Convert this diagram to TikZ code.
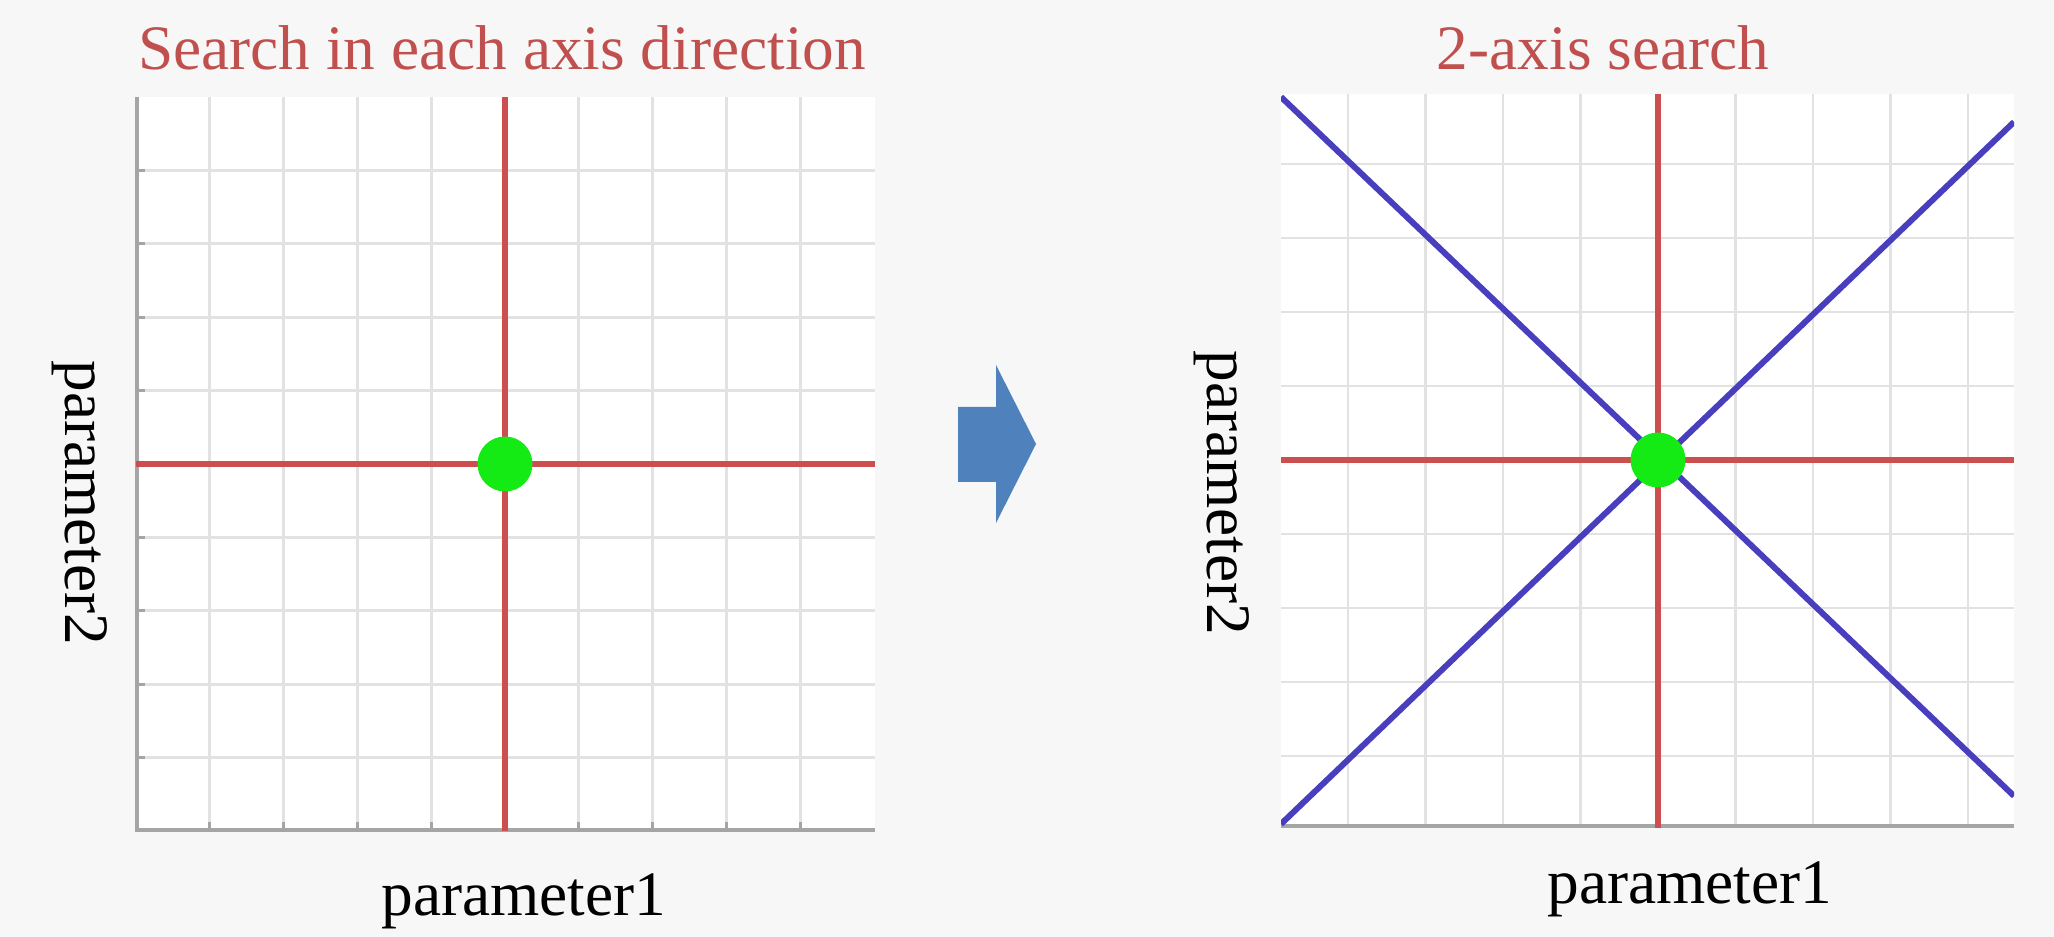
\documentclass[tikz,border=0pt]{standalone}
\usepackage{fontspec}
\setmainfont{Liberation Serif}
\definecolor{bgc}{RGB}{247,247,247}
\definecolor{titlered}{RGB}{192,80,77}
\definecolor{axred}{RGB}{205,78,78}
\definecolor{diagblue}{RGB}{72,62,190}
\definecolor{dotgreen}{RGB}{20,235,20}
\definecolor{arrowblue}{RGB}{79,129,189}
\definecolor{gridc}{RGB}{226,226,226}
\definecolor{axisc}{RGB}{165,165,165}
\begin{document}
\begin{tikzpicture}[x=0.01cm,y=-0.01cm,
  gridline/.style={draw=gridc,line width=0.75pt},
  axisline/.style={draw=axisc,line width=0.9pt},
  redline/.style={draw=axred,line width=1.45pt},
  blueline/.style={draw=diagblue,line width=1.7pt},
  dot/.style={circle,fill=dotgreen,inner sep=0pt,minimum size=0.55cm},
  titletext/.style={text=titlered,font=\fontsize{18}{21}\selectfont,inner sep=0pt,anchor=base},
  labeltext/.style={text=black,font=\fontsize{18}{21}\selectfont,inner sep=0pt}]
\useasboundingbox[fill=bgc] (0,0) rectangle (2054,937);
% ---------- left panel ----------
\fill[white] (136,97) rectangle (875,831);
\foreach \k in {1,...,9}{
  \draw[gridline] ({136+\k*73.8},97) -- ({136+\k*73.8},831);
  \draw[gridline] (136,{97+\k*73.4}) -- (875,{97+\k*73.4});
  \draw[axisline] (137,{97+\k*73.4}) -- (145,{97+\k*73.4});
  \draw[axisline] ({136+\k*73.8},830) -- ({136+\k*73.8},822);
}
\draw[axisline] (137,97) -- (137,830) -- (875,830);
\draw[redline] (505,97) -- (505,831);
\draw[redline] (136,464) -- (875,464);
\node[dot] (c1) at (505,464) {};
\node[titletext] (t1) at (502,70) {Search in each axis direction};
\node[labeltext,anchor=base] (x1) at (524,915) {parameter1};
\node[labeltext,rotate=-90] (y1) at (80,503) {parameter2};
% ---------- arrow ----------
\fill[arrowblue] (958,407) -- (996,407) -- (996,365) -- (1036,444) -- (996,523) -- (996,482) -- (958,482) -- cycle;
% ---------- right panel ----------
\fill[white] (1281,94) rectangle (2014,828);
\begin{scope}
\clip (1281,94) rectangle (2014,828);
\foreach \k in {-4,...,4}{
  \draw[gridline] ({1658+\k*77.5},94) -- ({1658+\k*77.5},828);
  \draw[gridline] (1281,{460+\k*74}) -- (2014,{460+\k*74});
}
\draw[axisline] (1281,826) -- (2014,826);
\draw[redline] (1658,94) -- (1658,828);
\draw[redline] (1281,460) -- (2014,460);
\draw[blueline] (1281,97) -- (2014,796);
\draw[blueline] (1281,824) -- (2014,122);
\end{scope}
\node[dot] (c2) at (1658,460) {};
\node[titletext] (t2) at (1603,70) {2-axis search};
\node[labeltext,anchor=base] (x2) at (1690,903) {parameter1};
\node[labeltext,rotate=-90] (y2) at (1222,493) {parameter2};
\end{tikzpicture}
\end{document}
